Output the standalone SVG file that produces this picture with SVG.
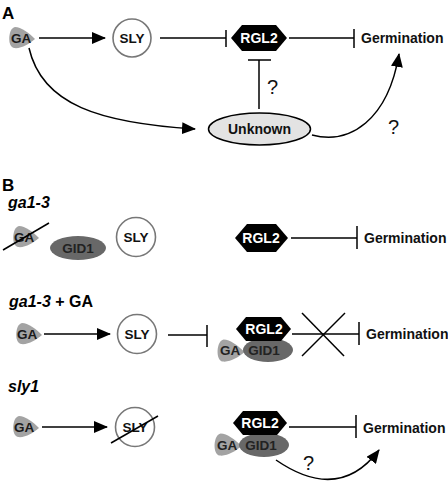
<svg xmlns="http://www.w3.org/2000/svg" width="448" height="485" viewBox="0 0 448 485">
<style>
text{font-family:"Liberation Sans",Arial,Helvetica,sans-serif;}
.lbl{font-weight:bold;font-size:14px;fill:#111;}
.pl{font-weight:bold;font-size:17px;fill:#000;}
.gen{font-weight:bold;font-style:italic;font-size:16px;fill:#000;}
.ga{fill:#a3a3a3;}
.gat{font-weight:bold;font-size:13.5px;fill:#1a1a1a;text-anchor:middle;}
.sly{fill:#fff;stroke:#777;stroke-width:1.6;}
.slyt{font-weight:bold;font-size:13.5px;fill:#111;text-anchor:middle;}
.hex{fill:#000;}
.hext{font-weight:bold;font-size:14px;fill:#fff;text-anchor:middle;}
.gid{fill:#686868;}
.gidt{font-weight:bold;font-size:13.5px;fill:#222;text-anchor:middle;}
.ln{stroke:#000;stroke-width:1.5;fill:none;}
.q{font-size:20px;fill:#111;}
</style>
<defs>
<marker id="ah" markerWidth="14" markerHeight="12" refX="13" refY="6" orient="auto" markerUnits="userSpaceOnUse">
<path d="M0,0 L14,6 L0,12 Z" fill="#000"/>
</marker>
<path id="gablob" d="M13,1 C7,-5 -1,-11 -7,-11 C-14,-10 -15,9 -8,10 C-1,11 7,6 13,1 Z"/>
</defs>

<!-- Panel A -->
<text class="pl" x="2" y="19">A</text>

<g id="A_GA"><use href="#gablob" class="ga" x="22" y="38"/><text class="gat" x="21" y="43">GA</text></g>
<g id="A_SLY"><circle class="sly" cx="132" cy="38" r="19"/><text class="slyt" x="132" y="43">SLY</text></g>
<g id="A_RGL2"><polygon class="hex" points="231,38 242,25 276,25 287,38 276,51 242,51"/><text class="hext" x="259" y="43">RGL2</text></g>
<g id="A_Germ"><text class="lbl" x="361" y="43">Germination</text></g>
<g id="A_Unknown"><ellipse cx="259.5" cy="129" rx="51" ry="16" fill="#e3e3e3" stroke="#000" stroke-width="1.5"/><text class="lbl" x="259.5" y="134" text-anchor="middle">Unknown</text></g>

<g id="connectors">
<!-- A -->
<line class="ln" x1="39" y1="38" x2="105" y2="38" marker-end="url(#ah)"/>
<line class="ln" x1="160" y1="38" x2="226" y2="38"/>
<line class="ln" x1="226" y1="30" x2="226" y2="47"/>
<line class="ln" x1="289" y1="38" x2="354" y2="38"/>
<line class="ln" x1="354" y1="29" x2="354" y2="48"/>
<line class="ln" x1="259" y1="60" x2="259" y2="109"/>
<line class="ln" x1="248" y1="60" x2="271" y2="60"/>
<path class="ln" d="M29,48 C42,105 100,123 195,129" marker-end="url(#ah)"/>
<path class="ln" d="M312,135 C350,145 388,120 399,54" marker-end="url(#ah)"/>
<!-- B row 1 -->
<line class="ln" x1="291" y1="238" x2="357" y2="238"/>
<line class="ln" x1="357" y1="226" x2="357" y2="249"/>
<!-- B row 2 -->
<line class="ln" x1="44" y1="334" x2="110" y2="334" marker-end="url(#ah)"/>
<line class="ln" x1="168" y1="335" x2="207" y2="335"/>
<line class="ln" x1="207" y1="325" x2="207" y2="347"/>
<line class="ln" x1="292" y1="334" x2="359" y2="334"/>
<line class="ln" x1="359" y1="322" x2="359" y2="345"/>
<line class="ln" x1="302" y1="313" x2="344" y2="356"/>
<line class="ln" x1="345" y1="313" x2="302" y2="356"/>
<!-- B row 3 -->
<line class="ln" x1="42" y1="427" x2="107" y2="427" marker-end="url(#ah)"/>
<line class="ln" x1="289" y1="427" x2="356" y2="427"/>
<line class="ln" x1="356" y1="415" x2="356" y2="438"/>
<path class="ln" d="M276,460 C305,480 345,495 379,450" marker-end="url(#ah)"/>
</g>

<text class="q" x="267" y="94">?</text>
<text class="q" x="388" y="134">?</text>

<!-- Panel B -->
<text class="pl" x="2" y="191">B</text>
<text class="gen" x="8" y="208">ga1-3</text>

<g id="B1_GA"><use href="#gablob" class="ga" x="26" y="237"/><text class="gat" x="24" y="242">GA</text><line class="ln" x1="3" y1="250" x2="49" y2="223"/></g>
<g id="B1_GID1"><ellipse class="gid" cx="78" cy="248" rx="28" ry="12"/><text class="gidt" x="78" y="253">GID1</text></g>
<g id="B1_SLY"><circle class="sly" cx="136" cy="237" r="19.5"/><text class="slyt" x="136" y="242">SLY</text></g>
<g id="B1_RGL2"><polygon class="hex" points="235,238 247,224 276,224 288,238 276,252 247,252"/><text class="hext" x="261" y="243">RGL2</text></g>
<g id="B1_Germ"><text class="lbl" x="364" y="243">Germination</text></g>

<text x="9" y="307" style="font-size:16px;font-weight:bold;fill:#000"><tspan font-style="italic">ga1-3</tspan> + GA</text>

<g id="B2_GA"><use href="#gablob" class="ga" x="29" y="334"/><text class="gat" x="27" y="339">GA</text></g>
<g id="B2_SLY"><circle class="sly" cx="137" cy="334" r="19.5"/><text class="slyt" x="137" y="339">SLY</text></g>
<g id="B2_complex">
<use href="#gablob" class="ga" transform="translate(231,351) scale(1.05)"/>
<ellipse class="gid" cx="268" cy="350" rx="25" ry="12"/>
<polygon class="hex" points="236,329 246,317 281,317 291,329 281,341 246,341"/>
<text class="hext" x="264" y="334">RGL2</text>
<text class="gidt" x="230" y="355">GA</text>
<text class="gidt" x="264" y="355">GID1</text>
</g>
<g id="B2_Germ"><text class="lbl" x="366" y="339">Germination</text></g>

<text class="gen" x="8" y="392">sly1</text>

<g id="B3_GA"><use href="#gablob" class="ga" x="26" y="427"/><text class="gat" x="24" y="432">GA</text></g>
<g id="B3_SLY"><circle class="sly" cx="135" cy="427" r="19.5"/><text class="slyt" x="135" y="432">SLY</text><line class="ln" x1="111" y1="443" x2="158" y2="416"/></g>
<g id="B3_complex">
<use href="#gablob" class="ga" transform="translate(228,445) scale(1.05)"/>
<ellipse class="gid" cx="264" cy="445" rx="25" ry="12"/>
<polygon class="hex" points="233,423 243,411 277,411 287,423 277,435 243,435"/>
<text class="hext" x="260" y="428">RGL2</text>
<text class="gidt" x="227" y="450">GA</text>
<text class="gidt" x="261" y="450">GID1</text>
</g>
<g id="B3_Germ"><text class="lbl" x="363" y="433">Germination</text></g>
<text class="q" x="303" y="470">?</text>
</svg>
